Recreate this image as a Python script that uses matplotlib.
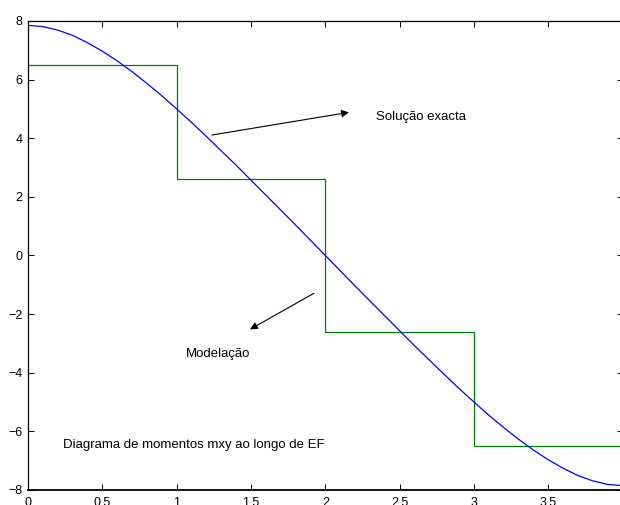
import matplotlib
matplotlib.use("Agg")
import matplotlib.pyplot as plt

plt.rcParams['font.family'] = ['Liberation Sans', 'DejaVu Sans']

# Exact solution
x_exact = [0.0, 0.1, 0.2, 0.3, 0.4, 0.5, 0.6, 0.7, 0.8, 0.9,
           1.0, 1.1, 1.2, 1.3, 1.4, 1.5, 1.6, 1.7, 1.8, 1.9,
           2.0, 2.1, 2.2, 2.3, 2.4, 2.5, 2.6, 2.7, 2.8, 2.9,
           3.0, 3.1, 3.2, 3.3, 3.4, 3.5, 3.6, 3.7, 3.8, 3.9, 4.0]
y_exact = [7.85, 7.81, 7.69, 7.51, 7.26, 6.97, 6.64, 6.27, 5.87, 5.45,
           5.00, 4.54, 4.06, 3.57, 3.08, 2.57, 2.06, 1.55, 1.04, 0.52,
           0.00, -0.52, -1.04, -1.55, -2.06, -2.57, -3.08, -3.57, -4.06, -4.54,
           -5.00, -5.45, -5.87, -6.27, -6.64, -6.97, -7.26, -7.51, -7.69, -7.81, -7.85]

# Finite element model (piecewise constant)
elem_edges = [0, 1, 2, 3, 4]
elem_values = [6.5, 2.6, -2.6, -6.5]

xticks = [0, 0.5, 1, 1.5, 2, 2.5, 3, 3.5, 4]
xticklabels = ['0', '0.5', '1', '1.5', '2', '2.5', '3', '3.5', '4']
yticks = [-8, -6, -4, -2, 0, 2, 4, 6, 8]
yticklabels = ['\u22128', '\u22126', '\u22124', '\u22122', '0', '2', '4', '6', '8']

fig = plt.figure(figsize=(6.2, 5.05), dpi=100)
W, H = 620, 505
ax = fig.add_axes([28 / W, (H - 490) / H, (622.7 - 28) / W, (490 - 21) / H])

ax.plot(x_exact, y_exact, color='#0000ff', lw=0.9)
ax.stairs(elem_values, elem_edges, color='#008000', lw=0.9, baseline=None)

ax.set_xlim(0, 4)
ax.set_ylim(-8, 8)
ax.set_xticks(xticks)
ax.set_xticklabels(xticklabels)
ax.set_yticks(yticks)
ax.set_yticklabels(yticklabels)
ax.tick_params(direction='in', length=4, width=0.7, labelsize=9, top=True, right=True, pad=4)
ax.tick_params(axis='x', pad=5)
for s in ax.spines.values():
    s.set_linewidth(0.9)
ax.spines['bottom'].set_linewidth(1.3)

ax.annotate('', xy=(2.159, 4.884), xytext=(1.237, 4.11),
            arrowprops=dict(arrowstyle='-|>', color='k', lw=0.8, mutation_scale=11, shrinkA=0, shrinkB=0))
ax.annotate('', xy=(1.493, -2.52), xytext=(1.923, -1.29),
            arrowprops=dict(arrowstyle='-|>', color='k', lw=0.8, mutation_scale=11, shrinkA=0, shrinkB=0))

ax.text(2.338, 4.61, 'Solução exacta', fontsize=9.5, ha='left', va='baseline')
ax.text(1.0625, -3.457, 'Modelação', fontsize=9.5, ha='left', va='baseline')
ax.text(0.237, -6.563, 'Diagrama de momentos mxy ao longo de EF', fontsize=9.5, ha='left', va='baseline')

fig.savefig('out.png', dpi=100)
